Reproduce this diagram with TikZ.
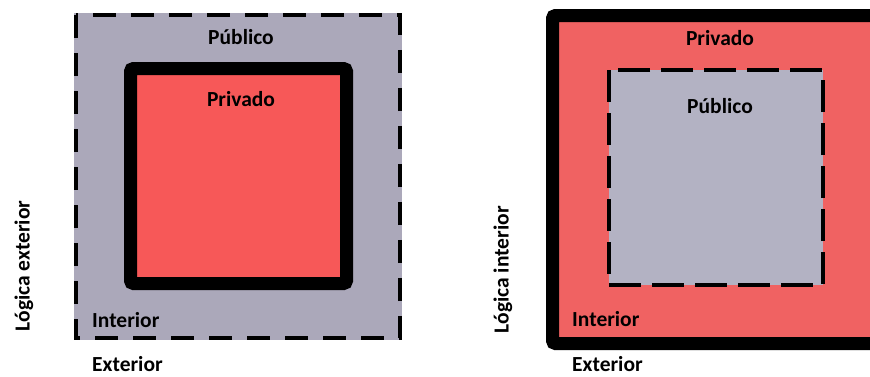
\documentclass[tikz,border=0pt]{standalone}
\usepackage{fontspec}
\setmainfont{Carlito}
\usetikzlibrary{positioning}
\definecolor{pubgray}{HTML}{ABA8BA}
\definecolor{privred}{HTML}{F75858}
\definecolor{privred2}{HTML}{F06262}
\definecolor{pubgray2}{HTML}{B3B2C3}
\begin{document}
\begin{tikzpicture}[x=1pt,y=-1pt,
  lbl/.style={font=\fontsize{21.5}{25}\selectfont\bfseries, inner sep=0pt},
  publine/.style={line width=4pt, dash pattern=on 23pt off 15pt},
  privline/.style={line width=13pt, rounded corners=3pt}]
 \useasboundingbox[fill=white] (0,0) rectangle (870,376);
 % logica exterior
 \fill[pubgray] (74,13) rectangle (402,340);
 \draw[publine] (76,15) rectangle (400,338);
 \draw[privline, fill=privred] (130.5,68.5) rectangle (346.5,283.5);
 \node[lbl, anchor=base] (pub1) at (241,44) {Público};
 \node[lbl, anchor=base] (priv1) at (241,106) {Privado};
 \node[lbl, anchor=base west] (int1) at (92,327) {Interior};
 \node[lbl, anchor=base west] (ext1) at (92,371) {Exterior};
 \node[lbl, rotate=90] (logext) at (24,266) {Lógica exterior};
 % logica interior
 \begin{scope}
  \clip (0,0) rectangle (870,376);
  \draw[privline, fill=privred2] (552.5,15.5) rectangle (885,343.5);
 \end{scope}
 \fill[pubgray2] (609,70) rectangle (823,285);
 \draw[publine, dash pattern=on 32pt off 11pt] (609,70) rectangle (823,285);
 \node[lbl, anchor=base] (priv2) at (720,45) {Privado};
 \node[lbl, anchor=base] (pub2) at (720,113) {Público};
 \node[lbl, anchor=base west] (int2) at (572,326) {Interior};
 \node[lbl, anchor=base west] (ext2) at (572,371) {Exterior};
 \node[lbl, rotate=90] (logint) at (503,270) {Lógica interior};
\end{tikzpicture}
\end{document}
